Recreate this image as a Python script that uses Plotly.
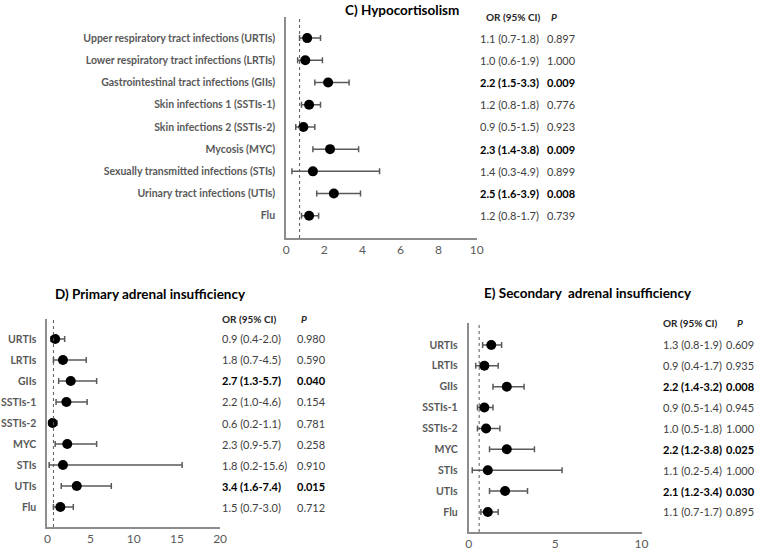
import plotly.graph_objects as go

# ---------------- data ----------------
labels_c = ["Upper respiratory tract infections (URTIs)",
            "Lower respiratory tract infections (LRTIs)",
            "Gastrointestinal tract infections (GIIs)",
            "Skin infections 1 (SSTIs-1)",
            "Skin infections 2 (SSTIs-2)",
            "Mycosis (MYC)",
            "Sexually transmitted infections (STIs)",
            "Urinary tract infections (UTIs)",
            "Flu"]
labels_short = ["URTIs", "LRTIs", "GIIs", "SSTIs-1", "SSTIs-2", "MYC", "STIs", "UTIs", "Flu"]

or_c = [1.1, 1.0, 2.2, 1.2, 0.9, 2.3, 1.4, 2.5, 1.2]
lo_c = [0.7, 0.6, 1.5, 0.8, 0.5, 1.4, 0.3, 1.6, 0.8]
hi_c = [1.8, 1.9, 3.3, 1.8, 1.5, 3.8, 4.9, 3.9, 1.7]
p_c = ["0.897", "1.000", "0.009", "0.776", "0.923", "0.009", "0.899", "0.008", "0.739"]

or_d = [0.9, 1.8, 2.7, 2.2, 0.6, 2.3, 1.8, 3.4, 1.5]
lo_d = [0.4, 0.7, 1.3, 1.0, 0.2, 0.9, 0.2, 1.6, 0.7]
hi_d = [2.0, 4.5, 5.7, 4.6, 1.1, 5.7, 15.6, 7.4, 3.0]
p_d = ["0.980", "0.590", "0.040", "0.154", "0.781", "0.258", "0.910", "0.015", "0.712"]

or_e = [1.3, 0.9, 2.2, 0.9, 1.0, 2.2, 1.1, 2.1, 1.1]
lo_e = [0.8, 0.4, 1.4, 0.5, 0.5, 1.2, 0.2, 1.2, 0.7]
hi_e = [1.9, 1.7, 3.2, 1.4, 1.8, 3.8, 5.4, 3.4, 1.7]
p_e = ["0.609", "0.935", "0.008", "0.945", "1.000", "0.025", "1.000", "0.030", "0.895"]

titles = ["C) Hypocortisolism", "D) Primary adrenal insufficiency", "E) Secondary  adrenal insufficiency"]
ref_lines = [0.7, 0.7, 0.6]
x_max = [10, 20, 10]
x_ticks = [[0, 2, 4, 6, 8, 10], [0, 5, 10, 15, 20], [0, 5, 10]]

# ---------------- layout helpers ----------------
W, H = 762, 553
FONT = "Lato"
GRAY = "#595959"
AXIS = "#8c8c8c"

def px_x(v):
    return v / W

def px_y(v):
    return 1 - v / H

panels = [
    dict(labels=labels_c, orv=or_c, lo=lo_c, hi=hi_c, p=p_c,
         xdom=(287, 480), ydom=(17, 238), yr=[9.0, -0.95],
         title_xy=(404, 10), or_x=481, p_x=549, hdr_or_x=487, hdr_p_x=558),
    dict(labels=labels_short, orv=or_d, lo=lo_d, hi=hi_d, p=p_d,
         xdom=(45, 220), ydom=(319, 527), yr=[8.95, -0.95],
         title_xy=(149, 294), or_x=220, p_x=296, hdr_or_x=220, hdr_p_x=305),
    dict(labels=labels_short, orv=or_e, lo=lo_e, hi=hi_e, p=p_e,
         xdom=(472, 647), ydom=(323, 532), yr=[8.96, -1.05],
         title_xy=(593, 293), or_x=667, p_x=731, hdr_or_x=667, hdr_p_x=747),
]

fig = go.Figure()
annotations = []
shapes = []

for i, pn in enumerate(panels):
    k = "" if i == 0 else str(i + 1)
    xa, ya = "x" + k, "y" + k
    rows = list(range(len(pn["labels"])))
    fig.add_trace(go.Scatter(
        x=pn["orv"], y=rows, xaxis=xa, yaxis=ya, mode="markers",
        marker=dict(color="black", size=10),
        error_x=dict(type="data", symmetric=False,
                     array=[h - o for h, o in zip(pn["hi"], pn["orv"])],
                     arrayminus=[o - l for o, l in zip(pn["orv"], pn["lo"])],
                     color=GRAY, thickness=1.5, width=3),
        showlegend=False, hoverinfo="skip"))

    fig.layout["xaxis" + k] = dict(
        domain=[px_x(pn["xdom"][0]), px_x(pn["xdom"][1])],
        anchor=ya, range=[0, x_max[i]], tickvals=x_ticks[i],
        showgrid=False, zeroline=False, showline=True, linecolor=AXIS, linewidth=2,
        ticks="", tickfont=dict(family=FONT, size=12, color=GRAY), fixedrange=True)
    fig.layout["yaxis" + k] = dict(
        domain=[px_y(pn["ydom"][1]), px_y(pn["ydom"][0])],
        anchor=xa, range=pn["yr"], tickvals=rows,
        ticktext=["<b>%s</b>" % t for t in pn["labels"]],
        showgrid=False, zeroline=False, showline=True, linecolor=AXIS, linewidth=2,
        ticks="", ticklabelstandoff=7,
        tickfont=dict(family=FONT, size=10.5, color=GRAY), fixedrange=True)

    shapes.append(dict(type="line", xref=xa, yref=ya + " domain",
                       x0=ref_lines[i], x1=ref_lines[i], y0=0, y1=1,
                       line=dict(color=GRAY, width=1, dash="dot")))

    # title
    tx, ty = pn["title_xy"]
    annotations.append(dict(text="<b>%s</b>" % titles[i], xref="paper", yref="paper",
                            x=px_x(tx), y=px_y(ty), xanchor="center", yanchor="middle",
                            showarrow=False, font=dict(family=FONT, size=13.5, color="black")))
    # headers
    annotations.append(dict(text="<b>OR (95% CI)</b>", xref="paper", yref=ya,
                            x=px_x(pn["hdr_or_x"]), y=pn["yr"][1], xanchor="left", yanchor="middle",
                            showarrow=False, font=dict(family=FONT, size=10, color="#262626")))
    annotations.append(dict(text="<b><i>P</i></b>", xref="paper", yref=ya,
                            x=px_x(pn["hdr_p_x"]), y=pn["yr"][1], xanchor="center", yanchor="middle",
                            showarrow=False, font=dict(family=FONT, size=10, color="#262626")))
    # table rows
    for r, (o, l, h, p) in enumerate(zip(pn["orv"], pn["lo"], pn["hi"], pn["p"])):
        sig = float(p) < 0.05
        s_or = "%.1f (%.1f-%.1f)" % (o, l, h)
        fmt = (lambda s: "<b>%s</b>" % s) if sig else (lambda s: s)
        col = "black" if sig else "#404040"
        annotations.append(dict(text=fmt(s_or), xref="paper", yref=ya,
                                x=px_x(pn["or_x"]), y=r, xanchor="left", yanchor="middle",
                                showarrow=False, font=dict(family=FONT, size=11, color=col)))
        annotations.append(dict(text=fmt(p), xref="paper", yref=ya,
                                x=px_x(pn["p_x"]), y=r, xanchor="left", yanchor="middle",
                                showarrow=False, font=dict(family=FONT, size=11, color=col)))

fig.update_layout(width=W, height=H, margin=dict(l=0, r=0, t=0, b=0),
                  paper_bgcolor="white", plot_bgcolor="white",
                  annotations=annotations, shapes=shapes,
                  font=dict(family=FONT))

fig.write_html("out.html", config={"displayModeBar": False},
               post_script="document.body.style.margin='0';")
